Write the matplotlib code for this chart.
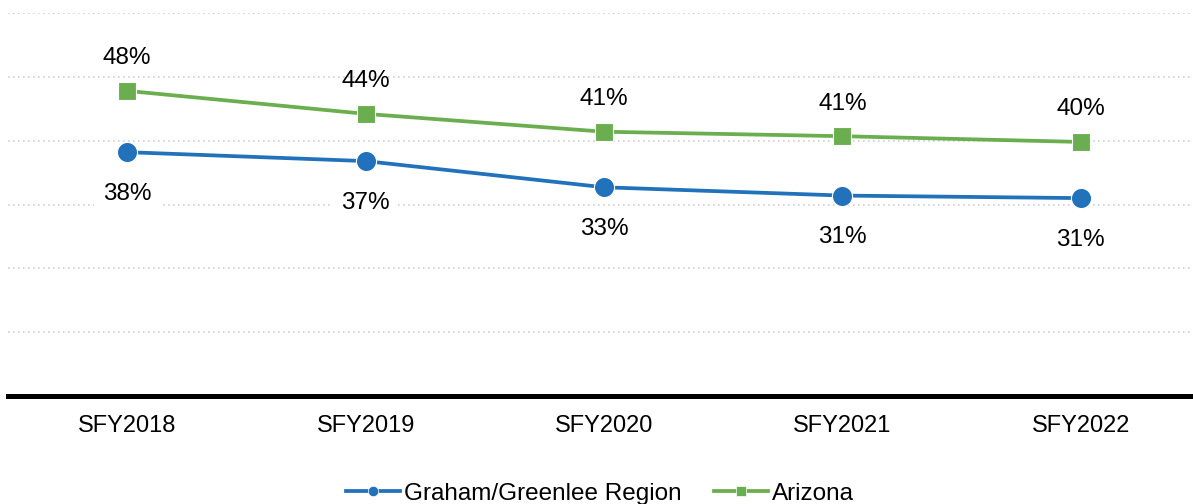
import matplotlib
matplotlib.use("Agg")
import matplotlib.pyplot as plt
from matplotlib.lines import Line2D

plt.rcParams['font.family'] = ['Liberation Sans', 'DejaVu Sans']

categories = ["SFY2018", "SFY2019", "SFY2020", "SFY2021", "SFY2022"]
graham = [38.2, 36.8, 32.7, 31.4, 31.0]
arizona = [47.8, 44.2, 41.4, 40.7, 39.8]
graham_labels = ["38%", "37%", "33%", "31%", "31%"]
arizona_labels = ["48%", "44%", "41%", "41%", "40%"]
series_names = ["Graham/Greenlee Region", "Arizona"]

blue = "#2271BB"
green = "#6AAE4F"

W, H = 1193, 504
fig = plt.figure(figsize=(W / 100, H / 100), dpi=100)
ax = fig.add_axes([8 / W, (H - 396) / H, (1200 - 8) / W, (396 - 13) / H])

x = list(range(len(categories)))
ax.plot(x, graham, color=blue, lw=2.7, marker='o', markersize=14.5,
        markeredgecolor='white', markeredgewidth=0.8, zorder=3)
ax.plot(x, arizona, color=green, lw=2.7, marker='s', markersize=13,
        markeredgecolor='white', markeredgewidth=0.8, zorder=3)

box = dict(boxstyle='square,pad=0.35', facecolor='white', edgecolor='none')
for xi, v, lab in zip(x, arizona, arizona_labels):
    ax.annotate(lab, (xi, v), xytext=(0, 23.5), textcoords='offset points',
                ha='center', va='center', fontsize=17.5, color='black',
                zorder=2)
for xi, v, lab in zip(x, graham, graham_labels):
    ax.annotate(lab, (xi, v), xytext=(0, -30), textcoords='offset points',
                ha='center', va='center', fontsize=17.5, color='black',
                bbox=box, zorder=2)

ax.set_xlim(-0.5, 4.5)
ax.set_ylim(0, 60)
ax.set_yticks([10, 20, 30, 40, 50, 60])
ax.yaxis.grid(True, color='#CFCFCF', linestyle=(0, (1, 2)), linewidth=1.2)
ax.set_axisbelow(True)
ax.tick_params(axis='y', left=False, labelleft=False)
ax.set_xticks(x)
ax.set_xticklabels(categories, fontsize=17)
ax.tick_params(axis='x', length=0, pad=13.5)
for s in ['top', 'right', 'left']:
    ax.spines[s].set_visible(False)
ax.spines['bottom'].set_linewidth(3.6)
ax.spines['bottom'].set_color('black')
ax.spines['bottom'].set_zorder(4)

handles = [
    Line2D([], [], color=blue, lw=2.7, marker='o', markersize=7.5,
           markeredgecolor='white', markeredgewidth=0.5),
    Line2D([], [], color=green, lw=2.7, marker='s', markersize=7,
           markeredgecolor='white', markeredgewidth=0.5),
]
fig.legend(handles, series_names, loc='center', bbox_to_anchor=(600 / W, 1 - 494 / H),
           ncol=2, frameon=False, fontsize=17.5, handlelength=2.25,
           handletextpad=0.17, columnspacing=1.3)

fig.savefig("out.png", dpi=100)
